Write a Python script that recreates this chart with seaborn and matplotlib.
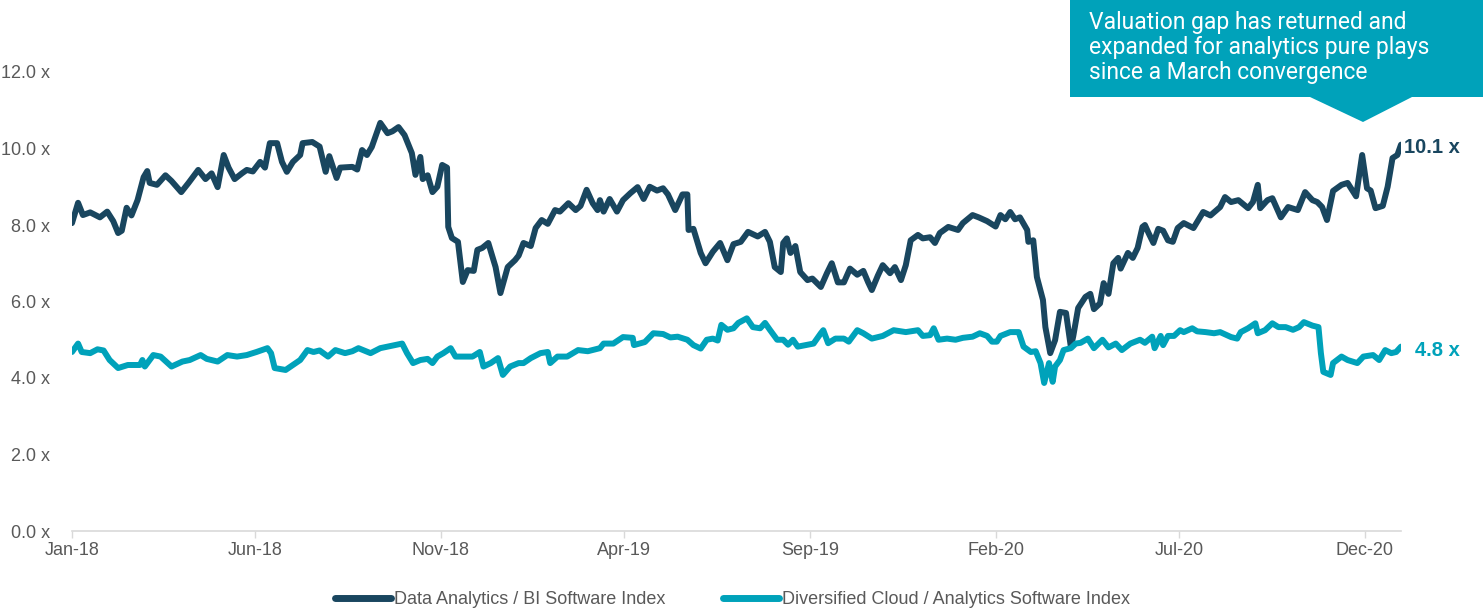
import matplotlib
matplotlib.use("Agg")
import matplotlib.pyplot as plt
from matplotlib.lines import Line2D
from matplotlib.patches import Polygon
import matplotlib.dates as mdates
import seaborn as sns
import pandas as pd

# EV / revenue multiples
bi_name = "Data Analytics / BI Software Index"
bi_dates = [
    "2018-01-01", "2018-01-06", "2018-01-10", "2018-01-16", "2018-01-24", "2018-01-30",
    "2018-02-04", "2018-02-08", "2018-02-11", "2018-02-15", "2018-02-19", "2018-02-24",
    "2018-03-01", "2018-03-04", "2018-03-06", "2018-03-12", "2018-03-19", "2018-03-24",
    "2018-04-01", "2018-04-07", "2018-04-15", "2018-04-21", "2018-04-26", "2018-05-01",
    "2018-05-06", "2018-05-10", "2018-05-15", "2018-05-21", "2018-05-25", "2018-05-30",
    "2018-06-05", "2018-06-09", "2018-06-13", "2018-06-19", "2018-06-23", "2018-06-27",
    "2018-07-02", "2018-07-08", "2018-07-10", "2018-07-18", "2018-07-24", "2018-07-29",
    "2018-08-01", "2018-08-07", "2018-08-10", "2018-08-20", "2018-08-24", "2018-08-28",
    "2018-09-01", "2018-09-05", "2018-09-12", "2018-09-18", "2018-09-22", "2018-09-27",
    "2018-10-02", "2018-10-08", "2018-10-11", "2018-10-15", "2018-10-17", "2018-10-21",
    "2018-10-25", "2018-10-29", "2018-11-02", "2018-11-06", "2018-11-07", "2018-11-10",
    "2018-11-15", "2018-11-19", "2018-11-23", "2018-11-28", "2018-12-01", "2018-12-05",
    "2018-12-10", "2018-12-16", "2018-12-20", "2018-12-26", "2019-01-01", "2019-01-04",
    "2019-01-08", "2019-01-14", "2019-01-18", "2019-01-23", "2019-01-28", "2019-02-03",
    "2019-02-07", "2019-02-14", "2019-02-20", "2019-02-24", "2019-03-01", "2019-03-06",
    "2019-03-10", "2019-03-12", "2019-03-15", "2019-03-20", "2019-03-26", "2019-03-31",
    "2019-04-06", "2019-04-12", "2019-04-17", "2019-04-22", "2019-04-28", "2019-05-03",
    "2019-05-07", "2019-05-13", "2019-05-19", "2019-05-23", "2019-05-24", "2019-05-28",
    "2019-06-03", "2019-06-07", "2019-06-13", "2019-06-19", "2019-06-25", "2019-06-30",
    "2019-07-06", "2019-07-12", "2019-07-20", "2019-07-26", "2019-07-30", "2019-08-03",
    "2019-08-08", "2019-08-10", "2019-08-13", "2019-08-16", "2019-08-20", "2019-08-24",
    "2019-08-30", "2019-09-03", "2019-09-10", "2019-09-15", "2019-09-19", "2019-09-24",
    "2019-09-29", "2019-10-04", "2019-10-10", "2019-10-15", "2019-10-19", "2019-10-22",
    "2019-10-27", "2019-10-31", "2019-11-06", "2019-11-10", "2019-11-15", "2019-11-19",
    "2019-11-23", "2019-11-29", "2019-12-03", "2019-12-09", "2019-12-13", "2019-12-17",
    "2019-12-24", "2020-01-01", "2020-01-05", "2020-01-13", "2020-01-18", "2020-01-25",
    "2020-02-01", "2020-02-05", "2020-02-09", "2020-02-13", "2020-02-17", "2020-02-21",
    "2020-02-27", "2020-02-28", "2020-03-03", "2020-03-06", "2020-03-11", "2020-03-13",
    "2020-03-17", "2020-03-21", "2020-03-25", "2020-03-30", "2020-04-03", "2020-04-05",
    "2020-04-09", "2020-04-15", "2020-04-19", "2020-04-22", "2020-04-27", "2020-04-30",
    "2020-05-04", "2020-05-08", "2020-05-12", "2020-05-14", "2020-05-20", "2020-05-24",
    "2020-05-28", "2020-06-01", "2020-06-03", "2020-06-06", "2020-06-10", "2020-06-14",
    "2020-06-18", "2020-06-22", "2020-06-26", "2020-06-30", "2020-07-05", "2020-07-13",
    "2020-07-21", "2020-07-27", "2020-08-04", "2020-08-08", "2020-08-13", "2020-08-19",
    "2020-08-27", "2020-08-31", "2020-09-04", "2020-09-06", "2020-09-12", "2020-09-16",
    "2020-09-23", "2020-09-29", "2020-10-07", "2020-10-13", "2020-10-19", "2020-10-23",
    "2020-10-27", "2020-10-31", "2020-11-05", "2020-11-12", "2020-11-17", "2020-11-24",
    "2020-11-29", "2020-12-03", "2020-12-06", "2020-12-10", "2020-12-16", "2020-12-20",
    "2020-12-24", "2020-12-28", "2020-12-31",
]
bi_values = [
    8.05, 8.58, 8.26, 8.33, 8.20, 8.35,
    8.10, 7.79, 7.85, 8.45, 8.25, 8.65,
    9.25, 9.41, 9.10, 9.05, 9.30, 9.15,
    8.86, 9.10, 9.44, 9.20, 9.35, 8.99,
    9.83, 9.50, 9.20, 9.35, 9.44, 9.40,
    9.65, 9.50, 10.14, 10.14, 9.65, 9.39,
    9.65, 9.83, 10.14, 10.17, 10.05, 9.39,
    9.80, 9.23, 9.50, 9.52, 9.45, 9.96,
    9.83, 10.04, 10.67, 10.40, 10.45, 10.56,
    10.35, 9.88, 9.31, 9.78, 9.20, 9.30,
    8.86, 9.00, 9.57, 9.50, 7.95, 7.66,
    7.56, 6.51, 6.82, 6.80, 7.35, 7.40,
    7.53, 6.90, 6.22, 6.90, 7.08, 7.20,
    7.53, 7.45, 7.92, 8.13, 8.03, 8.39,
    8.35, 8.57, 8.39, 8.50, 8.92, 8.57,
    8.39, 8.65, 8.35, 8.68, 8.35, 8.65,
    8.83, 8.99, 8.68, 9.00, 8.90, 8.96,
    8.80, 8.39, 8.80, 8.80, 7.87, 7.90,
    7.27, 7.00, 7.30, 7.53, 7.08, 7.50,
    7.56, 7.82, 7.70, 7.82, 7.56, 6.90,
    6.77, 7.53, 7.65, 7.27, 7.45, 6.77,
    6.56, 6.60, 6.38, 6.74, 7.00, 6.50,
    6.50, 6.86, 6.70, 6.80, 6.50, 6.30,
    6.68, 6.95, 6.74, 6.90, 6.56, 6.95,
    7.60, 7.74, 7.65, 7.68, 7.53, 7.79,
    7.95, 7.87, 8.05, 8.26, 8.20, 8.10,
    7.96, 8.26, 8.15, 8.34, 8.15, 8.20,
    7.87, 7.56, 7.60, 6.64, 6.04, 5.33,
    4.65, 4.99, 5.73, 5.70, 4.81, 5.10,
    5.83, 6.12, 6.20, 5.80, 5.95, 6.48,
    6.20, 7.00, 7.14, 6.86, 7.27, 7.14,
    7.40, 7.95, 8.00, 7.79, 7.53, 7.90,
    7.85, 7.60, 7.56, 7.92, 8.05, 7.92,
    8.34, 8.25, 8.47, 8.73, 8.60, 8.65,
    8.44, 8.60, 9.05, 8.44, 8.65, 8.70,
    8.20, 8.47, 8.39, 8.86, 8.65, 8.60,
    8.47, 8.13, 8.89, 9.05, 9.10, 8.75,
    9.83, 8.96, 8.90, 8.44, 8.50, 9.00,
    9.75, 9.83, 10.10,
]

cloud_name = "Diversified Cloud / Analytics Software Index"
cloud_dates = [
    "2018-01-01", "2018-01-06", "2018-01-09", "2018-01-16", "2018-01-22", "2018-01-27",
    "2018-02-01", "2018-02-08", "2018-02-16", "2018-02-26", "2018-02-28", "2018-03-02",
    "2018-03-09", "2018-03-15", "2018-03-24", "2018-04-02", "2018-04-08", "2018-04-17",
    "2018-04-22", "2018-05-01", "2018-05-09", "2018-05-17", "2018-05-25", "2018-06-02",
    "2018-06-11", "2018-06-14", "2018-06-17", "2018-06-26", "2018-07-02", "2018-07-08",
    "2018-07-14", "2018-07-19", "2018-07-24", "2018-07-31", "2018-08-06", "2018-08-14",
    "2018-08-20", "2018-08-25", "2018-09-04", "2018-09-12", "2018-09-18", "2018-09-24",
    "2018-09-30", "2018-10-04", "2018-10-09", "2018-10-15", "2018-10-21", "2018-10-25",
    "2018-10-29", "2018-11-03", "2018-11-09", "2018-11-13", "2018-11-19", "2018-11-27",
    "2018-12-03", "2018-12-06", "2018-12-12", "2018-12-18", "2018-12-22", "2018-12-28",
    "2019-01-04", "2019-01-08", "2019-01-14", "2019-01-22", "2019-01-28", "2019-01-30",
    "2019-02-05", "2019-02-13", "2019-02-22", "2019-03-02", "2019-03-12", "2019-03-15",
    "2019-03-23", "2019-03-31", "2019-04-08", "2019-04-09", "2019-04-18", "2019-04-25",
    "2019-05-03", "2019-05-09", "2019-05-15", "2019-05-23", "2019-05-28", "2019-06-03",
    "2019-06-08", "2019-06-13", "2019-06-17", "2019-06-20", "2019-06-25", "2019-06-30",
    "2019-07-04", "2019-07-11", "2019-07-16", "2019-07-22", "2019-07-26", "2019-07-30",
    "2019-08-05", "2019-08-10", "2019-08-14", "2019-08-18", "2019-08-22", "2019-08-30",
    "2019-09-04", "2019-09-10", "2019-09-12", "2019-09-16", "2019-09-22", "2019-09-29",
    "2019-10-03", "2019-10-10", "2019-10-15", "2019-10-22", "2019-10-31", "2019-11-09",
    "2019-11-19", "2019-11-29", "2019-12-03", "2019-12-09", "2019-12-12", "2019-12-16",
    "2019-12-23", "2019-12-30", "2020-01-05", "2020-01-13", "2020-01-19", "2020-01-25",
    "2020-01-29", "2020-02-02", "2020-02-05", "2020-02-13", "2020-02-20", "2020-02-24",
    "2020-03-01", "2020-03-05", "2020-03-09", "2020-03-12", "2020-03-16", "2020-03-19",
    "2020-03-21", "2020-03-25", "2020-03-28", "2020-04-03", "2020-04-07", "2020-04-11",
    "2020-04-17", "2020-04-22", "2020-04-29", "2020-05-04", "2020-05-10", "2020-05-15",
    "2020-05-22", "2020-05-30", "2020-06-03", "2020-06-09", "2020-06-11", "2020-06-16",
    "2020-06-18", "2020-06-22", "2020-06-27", "2020-07-02", "2020-07-05", "2020-07-12",
    "2020-07-16", "2020-07-23", "2020-07-30", "2020-08-04", "2020-08-13", "2020-08-18",
    "2020-08-21", "2020-08-27", "2020-09-02", "2020-09-04", "2020-09-10", "2020-09-16",
    "2020-09-21", "2020-09-27", "2020-10-03", "2020-10-08", "2020-10-12", "2020-10-19",
    "2020-10-24", "2020-10-26", "2020-10-28", "2020-11-03", "2020-11-05", "2020-11-12",
    "2020-11-17", "2020-11-25", "2020-11-30", "2020-12-08", "2020-12-13", "2020-12-18",
    "2020-12-23", "2020-12-27", "2020-12-31",
]
cloud_values = [
    4.68, 4.90, 4.68, 4.65, 4.75, 4.72,
    4.47, 4.26, 4.34, 4.34, 4.47, 4.30,
    4.60, 4.56, 4.30, 4.43, 4.47, 4.60,
    4.50, 4.43, 4.60, 4.56, 4.60, 4.68,
    4.78, 4.65, 4.26, 4.21, 4.34, 4.47,
    4.73, 4.68, 4.72, 4.56, 4.73, 4.65,
    4.70, 4.78, 4.65, 4.78, 4.82, 4.86,
    4.90, 4.65, 4.39, 4.47, 4.50, 4.39,
    4.56, 4.65, 4.78, 4.56, 4.56, 4.56,
    4.68, 4.30, 4.39, 4.52, 4.08, 4.30,
    4.39, 4.39, 4.52, 4.65, 4.68, 4.39,
    4.56, 4.56, 4.73, 4.70, 4.78, 4.90,
    4.90, 5.07, 5.05, 4.86, 4.94, 5.17,
    5.15, 5.06, 5.08, 5.00, 4.86, 4.77,
    5.00, 5.03, 4.98, 5.39, 5.26, 5.30,
    5.44, 5.56, 5.33, 5.30, 5.44, 5.26,
    5.00, 5.00, 4.87, 5.00, 4.82, 4.87,
    4.90, 5.17, 5.25, 4.91, 5.03, 5.03,
    4.95, 5.25, 5.17, 5.03, 5.10, 5.25,
    5.20, 5.25, 5.10, 5.12, 5.30, 5.00,
    5.03, 5.00, 5.05, 5.08, 5.17, 5.10,
    4.95, 4.95, 5.10, 5.20, 5.20, 4.82,
    4.68, 4.70, 4.39, 3.87, 4.39, 3.90,
    4.30, 4.47, 4.73, 4.78, 4.90, 4.92,
    5.03, 4.78, 5.00, 4.80, 4.90, 4.73,
    4.90, 5.00, 4.92, 5.08, 4.78, 5.10,
    4.86, 5.10, 5.10, 5.25, 5.20, 5.30,
    5.22, 5.20, 5.17, 5.20, 5.07, 5.03,
    5.20, 5.30, 5.43, 5.17, 5.25, 5.43,
    5.33, 5.33, 5.26, 5.33, 5.46, 5.37,
    5.33, 4.65, 4.16, 4.08, 4.39, 4.56,
    4.47, 4.39, 4.56, 4.60, 4.47, 4.73,
    4.65, 4.68, 4.82,
]

x_ticks = ["2018-01-01", "2018-06-01", "2018-11-01", "2019-04-01",
           "2019-09-01", "2020-02-01", "2020-07-01", "2020-12-01"]
y_ticks = [0, 2, 4, 6, 8, 10, 12]
note = ("Valuation gap has returned and\n"
        "expanded for analytics pure plays\n"
        "since a March convergence")

dark = "#19465f"
teal = "#00a2ba"
grey = "#595959"

sns.set_theme(style="white")
plt.rcParams["font.family"] = ["Liberation Sans", "DejaVu Sans"]

bi = pd.DataFrame({"date": pd.to_datetime(bi_dates), "value": bi_values, "series": bi_name})
cloud = pd.DataFrame({"date": pd.to_datetime(cloud_dates), "value": cloud_values, "series": cloud_name})
df = pd.concat([bi, cloud], ignore_index=True)

W, H = 1483, 615
fig = plt.figure(figsize=(W / 100, H / 100), dpi=100)
ax = fig.add_axes([72 / W, 1 - 531 / H, (1401 - 72) / W, (531 - 72) / H])

sns.lineplot(data=df, x="date", y="value", hue="series", palette=[dark, teal],
             estimator=None, linewidth=4.3, legend=False, ax=ax)
for line in ax.lines:
    line.set_solid_joinstyle("round")
    line.set_solid_capstyle("round")

ax.set_xlim(pd.Timestamp("2018-01-01"), pd.Timestamp("2020-12-31"))
ax.set_ylim(0, 12)
ax.set_xticks(pd.to_datetime(x_ticks))
ax.xaxis.set_major_formatter(mdates.DateFormatter("%b-%y"))
ax.set_yticks(y_ticks)
ax.set_yticklabels([f"{v:.1f} x" for v in y_ticks])
ax.set_xlabel("")
ax.set_ylabel("")
for s in ["top", "right", "left"]:
    ax.spines[s].set_visible(False)
ax.spines["bottom"].set_color("#d9d9d9")
ax.spines["bottom"].set_linewidth(1.2)
ax.tick_params(axis="x", length=5, width=1, color="#d9d9d9", pad=3,
               labelsize=13, labelcolor=grey, bottom=True)
ax.tick_params(axis="y", length=0, pad=16, labelsize=13, labelcolor=grey)
ax.grid(False)

# end labels
ax.annotate(f"{bi_values[-1]:.1f} x", xy=(pd.Timestamp(bi_dates[-1]), bi_values[-1]),
            xytext=(2, -2), textcoords="offset points", va="center", ha="left",
            fontsize=14.5, fontweight="bold", color=dark, annotation_clip=False)
ax.annotate(f"{cloud_values[-1]:.1f} x", xy=(pd.Timestamp(cloud_dates[-1]), cloud_values[-1]),
            xytext=(10, -3), textcoords="offset points", va="center", ha="left",
            fontsize=14.5, fontweight="bold", color=teal, annotation_clip=False)

# callout box
pts = [(1070, 0), (1483, 0), (1483, 97), (1412, 97), (1363, 122), (1310, 97), (1070, 97)]
fig.patches.append(Polygon([(x / W, 1 - y / H) for x, y in pts], closed=True,
                           transform=fig.transFigure, facecolor=teal, edgecolor="none"))
fig.text(1089 / W, 1 - 11 / H, note, ha="left", va="top", color="white",
         fontsize=16.5, family=["Roboto", "DejaVu Sans"], linespacing=1.1)

handles = [Line2D([], [], color=dark, linewidth=5, solid_capstyle="round"),
           Line2D([], [], color=teal, linewidth=5, solid_capstyle="round")]
fig.legend(handles, [bi_name, cloud_name], loc="center", bbox_to_anchor=(0.494, 1 - 600 / H),
           ncol=2, frameon=False, fontsize=13, labelcolor=grey, handlelength=3.1,
           handletextpad=0.15, columnspacing=3.2)

fig.savefig("out.png", dpi=100)
